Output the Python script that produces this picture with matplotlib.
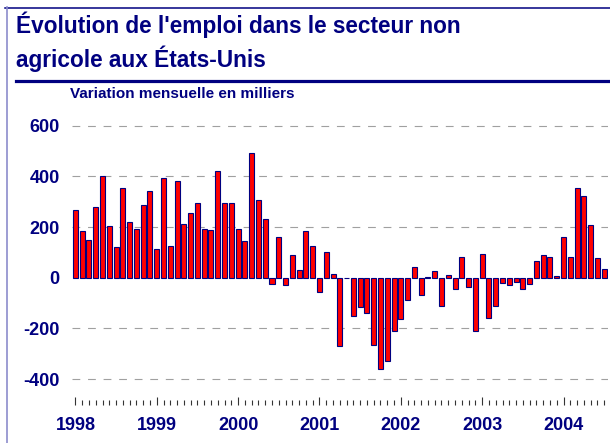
import matplotlib
matplotlib.use("Agg")
import matplotlib.pyplot as plt
from matplotlib.lines import Line2D
import numpy as np

plt.rcParams["font.family"] = ["Liberation Sans", "DejaVu Sans"]

# Variation mensuelle de l'emploi non agricole (milliers), janv. 1998 - juil. 2004
emploi_1998 = [266, 185, 148, 278, 400, 205, 120, 354, 220, 191, 285, 343]
emploi_1999 = [112, 395, 124, 383, 212, 256, 294, 193, 187, 422, 294, 293]
emploi_2000 = [193, 145, 491, 305, 230, -26, 159, -29, 88, 30, 183, 124]
emploi_2001 = [-55, 103, 14, -271, -2, -149, -114, -141, -267, -359, -330, -212]
emploi_2002 = [-164, -89, 43, -68, 2, 26, -111, 11, -46, 83, -38, -211]
emploi_2003 = [94, -159, -111, -20, -28, -15, -46, -25, 68, 89, 83, 8]
emploi_2004 = [160, 83, 354, 324, 208, 78, 34]
annees = ["1998", "1999", "2000", "2001", "2002", "2003", "2004"]
y_ticks = [-400, -200, 0, 200, 400, 600]

emploi = (emploi_1998 + emploi_1999 + emploi_2000 + emploi_2001
          + emploi_2002 + emploi_2003 + emploi_2004)
mois = np.arange(len(emploi))

NAVY = "#000080"
W, H = 610, 443


def fx(px):
    return px / W


def fy(py):
    return 1 - py / H


fig = plt.figure(figsize=(6.1, 4.43), dpi=100)
fig.patch.set_facecolor("white")

# cadre et titre
fig.add_artist(Line2D([fx(5), fx(610)], [fy(7.5), fy(7.5)], color=NAVY, lw=1.1,
                      transform=fig.transFigure))
fig.add_artist(Line2D([fx(6.5), fx(6.5)], [fy(7), fy(443)], color="#8C8CCC", lw=1.2,
                      transform=fig.transFigure))
fig.add_artist(Line2D([fx(16), fx(608)], [fy(80.5), fy(80.5)], color=NAVY, lw=2.3,
                      transform=fig.transFigure))
fig.text(fx(16.5), fy(33), "Évolution de l'emploi dans le secteur non", fontsize=16.3,
         fontweight="bold", color=NAVY, va="baseline", ha="left")
fig.text(fx(16.5), fy(67), "agricole aux États-Unis", fontsize=16.3,
         fontweight="bold", color=NAVY, va="baseline", ha="left")
fig.text(fx(70), fy(97.5), "Variation mensuelle en milliers", fontsize=11,
         fontweight="bold", color=NAVY, va="baseline", ha="left")

ax = fig.add_axes([fx(72), fy(404.5), (607.6 - 72) / W, (404.5 - 115.5) / H])
ax.set_facecolor("none")

for yv in y_ticks:
    if yv != 0:
        ax.axhline(yv, color="#A0A0A0", lw=0.8, linestyle=(0, (7.0, 7.0)), zorder=0)

ax.bar(mois, emploi, width=0.74, color="#FF0000", edgecolor=NAVY, linewidth=0.8,
       zorder=2)

ax.set_xlim(-0.5, len(emploi) - 0.5)
ax.set_ylim(-500, 640)

for s in ax.spines.values():
    s.set_visible(False)

ax.set_yticks(y_ticks)
ax.set_yticklabels([str(v) for v in y_ticks])
ax.tick_params(axis="y", length=0, pad=9, labelsize=13, labelcolor=NAVY)
for lab in ax.get_yticklabels():
    lab.set_fontweight("bold")

ax.set_xticks(mois[::12])
ax.set_xticklabels(annees)
ax.set_xticks([m for m in mois if m % 12 != 0], minor=True)
ax.tick_params(axis="x", which="major", direction="in", length=5.8, width=0.8,
               color="#333333", pad=9, labelsize=13, labelcolor=NAVY)
ax.tick_params(axis="x", which="minor", direction="in", length=3.6, width=0.8,
               color="#333333")
for lab in ax.get_xticklabels():
    lab.set_fontweight("bold")

fig.savefig("out.png", dpi=100)
